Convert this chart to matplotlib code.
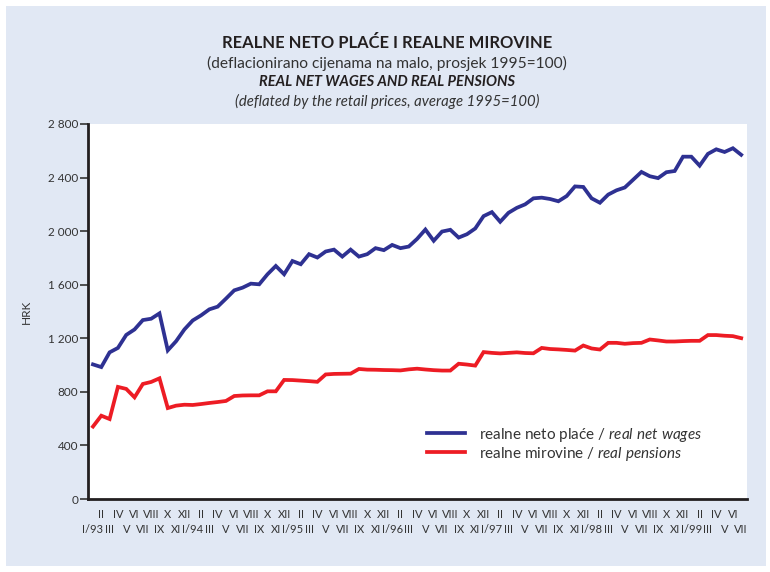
import matplotlib.pyplot as plt
from matplotlib.patches import Rectangle

plt.rcParams['font.family'] = ['Lato', 'DejaVu Sans']
plt.rcParams['mathtext.fontset'] = 'custom'
plt.rcParams['mathtext.rm'] = 'Lato'
plt.rcParams['mathtext.it'] = 'Lato:italic'

# monthly data, I/1993 - VII/1999
wages = [1005, 985, 1095, 1128, 1225, 1266, 1336, 1346, 1386, 1110, 1178, 1266,
         1333, 1371, 1416, 1436, 1496, 1558, 1578, 1608, 1603, 1678, 1740, 1678,
         1777, 1753, 1828, 1803, 1848, 1862, 1810, 1862, 1810, 1828, 1873, 1858,
         1897, 1873, 1885, 1942, 2012, 1928, 1997, 2010, 1952, 1977, 2020, 2112,
         2142, 2070, 2137, 2174, 2200, 2245, 2250, 2240, 2223, 2262, 2334, 2330,
         2245, 2212, 2273, 2305, 2326, 2384, 2442, 2410, 2396, 2440, 2449, 2556,
         2556, 2489, 2577, 2611, 2591, 2619, 2570]
pensions = [541, 622, 597, 837, 822, 759, 859, 874, 901, 679, 697, 704,
            702, 709, 717, 724, 732, 769, 773, 774, 774, 804, 804, 889,
            888, 884, 880, 875, 930, 934, 935, 936, 971, 966, 965, 963,
            962, 960, 968, 973, 967, 962, 959, 959, 1010, 1004, 996, 1097,
            1091, 1087, 1091, 1095, 1090, 1088, 1128, 1120, 1117, 1113, 1108, 1146,
            1124, 1116, 1166, 1166, 1159, 1164, 1166, 1191, 1184, 1176, 1176, 1179,
            1181, 1181, 1224, 1224, 1219, 1216, 1201]
roman = ['I', 'II', 'III', 'IV', 'V', 'VI', 'VII', 'VIII', 'IX', 'X', 'XI', 'XII']
start_year = 93
yticks = [0, 400, 800, 1200, 1600, 2000, 2400, 2800]

months = list(range(len(wages)))
labels = []
for i in months:
    if i % 12 == 0:
        labels.append('I/%02d' % (start_year + i // 12))
    else:
        labels.append(roman[i % 12])

fig = plt.figure(figsize=(7.7, 5.72), dpi=100, facecolor='white')
fig.patches.append(Rectangle((6 / 770, 6 / 572), 760 / 770, 560 / 572,
                             transform=fig.transFigure, facecolor='#e1e8f4',
                             edgecolor='none', zorder=-10))

ax = fig.add_axes([88 / 770, 1 - 499 / 572, 659 / 770, 375 / 572])
ax.set_facecolor('white')

ax.plot(months, wages, color='#2e3192', lw=2.7, solid_joinstyle='miter',
        label=r'realne neto plaće / $\it{real\ net\ wages}$')
ax.plot(months, pensions, color='#ed1c24', lw=2.7, solid_joinstyle='miter',
        label=r'realne mirovine / $\it{real\ pensions}$')

ax.set_xlim(-0.6, 78.7)
ax.set_ylim(0, 2800)
ax.set_yticks(yticks)
ax.set_yticklabels(['{:,}'.format(v).replace(',', ' ') for v in yticks],
                   fontsize=8.5, color='#333333')
ax.tick_params(axis='y', length=6, width=1.2, color='#333333', pad=1)

top = [i for i in months if i % 2 == 1]
bottom = [i for i in months if i % 2 == 0]
ax.set_xticks(top)
ax.set_xticklabels([labels[i] for i in top])
ax.set_xticks(bottom, minor=True)
ax.set_xticklabels([labels[i] for i in bottom], minor=True)
ax.tick_params(axis='x', which='major', length=0, pad=7, labelsize=8,
               labelcolor='#333333')
ax.tick_params(axis='x', which='minor', length=0, pad=18, labelsize=8,
               labelcolor='#333333')

for s in ['top', 'right']:
    ax.spines[s].set_visible(False)
for s in ['left', 'bottom']:
    ax.spines[s].set_linewidth(2)
    ax.spines[s].set_color('#231f20')

ax.set_ylabel('HRK', fontsize=8.5, color='#333333')
ax.yaxis.set_label_coords((32 - 88) / 659, (499 - 312) / 375)

ax.legend(loc='upper left', bbox_to_anchor=(0.494, 0.232), frameon=False,
          fontsize=11, handlelength=2.5, handletextpad=0.9, labelspacing=0.05,
          labelcolor='#333333')

fig.text(0.503, 1 - 43 / 572, 'REALNE NETO PLAĆE I REALNE MIROVINE',
         ha='center', va='center', fontsize=11.9, fontweight='bold', color='#231f20')
fig.text(0.503, 1 - 63 / 572, '(deflacionirano cijenama na malo, prosjek 1995=100)',
         ha='center', va='center', fontsize=11.2, color='#333333')
fig.text(0.503, 1 - 82 / 572, 'REAL NET WAGES AND REAL PENSIONS',
         ha='center', va='center', fontsize=10.5, fontweight='bold',
         style='italic', color='#231f20')
fig.text(0.503, 1 - 101 / 572, '(deflated by the retail prices, average 1995=100)',
         ha='center', va='center', fontsize=10.7, style='italic', color='#333333')

fig.savefig('out.png', dpi=100, facecolor=fig.get_facecolor())
